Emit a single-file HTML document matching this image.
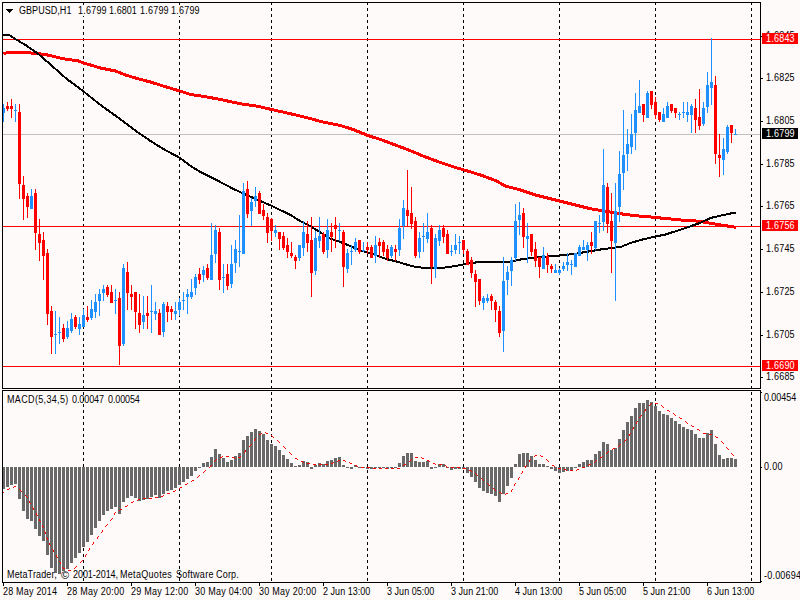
<!DOCTYPE html>
<html><head><meta charset="utf-8"><title>GBPUSD,H1</title>
<style>
html,body{margin:0;padding:0;background:#FFFAFA;}
body{width:800px;height:600px;position:relative;overflow:hidden;font-family:"Liberation Sans",sans-serif;}
.t{position:absolute;font-size:10px;line-height:12px;white-space:nowrap;transform-origin:0 0;transform:scaleX(.9);}
</style></head><body>
<div class="t" style="left:765.7px;top:30px;letter-spacing:0.244px">1.6845</div>
<svg width="800" height="600" viewBox="0 0 800 600" shape-rendering="crispEdges" style="position:absolute;left:0;top:0">
<line x1="83.5" y1="2" x2="83.5" y2="388" stroke="#000" stroke-width="1" stroke-dasharray="3 3"/>
<line x1="83.5" y1="392" x2="83.5" y2="582" stroke="#000" stroke-width="1" stroke-dasharray="3 3"/>
<line x1="179.5" y1="2" x2="179.5" y2="388" stroke="#000" stroke-width="1" stroke-dasharray="3 3"/>
<line x1="179.5" y1="392" x2="179.5" y2="582" stroke="#000" stroke-width="1" stroke-dasharray="3 3"/>
<line x1="271.5" y1="2" x2="271.5" y2="388" stroke="#000" stroke-width="1" stroke-dasharray="3 3"/>
<line x1="271.5" y1="392" x2="271.5" y2="582" stroke="#000" stroke-width="1" stroke-dasharray="3 3"/>
<line x1="367.5" y1="2" x2="367.5" y2="388" stroke="#000" stroke-width="1" stroke-dasharray="3 3"/>
<line x1="367.5" y1="392" x2="367.5" y2="582" stroke="#000" stroke-width="1" stroke-dasharray="3 3"/>
<line x1="463.5" y1="2" x2="463.5" y2="388" stroke="#000" stroke-width="1" stroke-dasharray="3 3"/>
<line x1="463.5" y1="392" x2="463.5" y2="582" stroke="#000" stroke-width="1" stroke-dasharray="3 3"/>
<line x1="559.5" y1="2" x2="559.5" y2="388" stroke="#000" stroke-width="1" stroke-dasharray="3 3"/>
<line x1="559.5" y1="392" x2="559.5" y2="582" stroke="#000" stroke-width="1" stroke-dasharray="3 3"/>
<line x1="655.5" y1="2" x2="655.5" y2="388" stroke="#000" stroke-width="1" stroke-dasharray="3 3"/>
<line x1="655.5" y1="392" x2="655.5" y2="582" stroke="#000" stroke-width="1" stroke-dasharray="3 3"/>
<line x1="751.5" y1="2" x2="751.5" y2="388" stroke="#000" stroke-width="1" stroke-dasharray="3 3"/>
<line x1="751.5" y1="392" x2="751.5" y2="582" stroke="#000" stroke-width="1" stroke-dasharray="3 3"/>
<rect x="83" y="5" width="1" height="11" fill="#FFFAFA"/>
<rect x="179" y="5" width="1" height="11" fill="#FFFAFA"/>
<rect x="3" y="39" width="757" height="1" fill="#FF0000"/>
<rect x="3" y="226" width="757" height="1" fill="#FF0000"/>
<rect x="3" y="366" width="757" height="1" fill="#FF0000"/>
<rect x="3" y="134" width="757" height="1" fill="#C0C0C0"/>
<polyline points="3.50,53.75 8.00,52.50 25.50,52.50 45.50,54.50 63.00,58.75 78.00,60.80 84.25,63.20 100.50,68.00 115.50,71.00 125.50,75.00 138.00,78.75 150.50,82.00 163.00,86.00 180.00,91.00 190.50,94.50 203.00,96.25 220.50,99.50 240.50,103.75 258.00,106.25 271.50,109.50 290.50,113.75 308.00,118.00 323.00,122.00 340.50,125.50 353.00,129.50 368.00,135.50 380.50,139.50 395.50,145.00 410.50,150.75 425.50,157.00 440.50,162.50 455.50,167.50 464.25,170.00 480.50,175.00 495.50,180.50 505.50,186.00 520.50,190.00 535.50,195.00 550.50,198.75 565.50,202.50 580.50,206.25 590.50,208.75 605.50,211.25 620.50,213.75 635.50,215.75 650.50,217.00 665.50,218.50 680.50,220.00 693.00,220.60 703.00,221.90 713.00,223.75 723.00,225.25 730.50,226.50 736.10,227.25" fill="none" stroke="#FF0000" stroke-width="3" stroke-linejoin="round"/>
<polyline points="2.50,34.60 8.50,34.60 16.10,39.50 25.50,45.00 38.00,53.75 50.50,64.50 66.50,78.75 84.25,92.00 100.50,105.00 118.00,117.50 138.00,132.50 150.50,141.00 163.00,148.75 180.00,158.00 190.50,166.00 200.50,172.00 215.50,179.50 233.00,188.75 245.50,194.50 260.50,201.00 271.50,205.75 290.50,215.00 300.50,221.25 310.50,226.25 320.50,232.50 330.50,238.75 340.50,242.00 350.50,246.25 363.00,251.25 375.50,255.00 385.50,258.75 395.50,261.25 405.50,264.25 415.50,267.00 425.50,268.00 435.50,268.25 445.50,267.50 455.50,266.00 465.50,264.00 475.50,262.50 488.00,261.75 500.50,261.75 510.50,261.50 520.50,259.50 535.50,257.50 550.50,256.25 565.50,255.00 575.50,253.75 585.50,252.00 600.50,249.50 620.50,247.00 630.50,243.00 640.50,240.00 655.50,236.50 665.50,234.50 675.50,231.25 690.50,226.25 700.50,222.75 710.50,218.00 720.50,215.60 730.50,213.50 736.10,212.75" fill="none" stroke="#000" stroke-width="2" stroke-linejoin="round"/>
<rect x="3" y="104" width="1" height="18" fill="#1E90FF"/>
<rect x="2" y="108" width="3" height="5" fill="#1E90FF"/>
<rect x="7" y="102" width="1" height="9" fill="#FF0000"/>
<rect x="6" y="106" width="3" height="3" fill="#FF0000"/>
<rect x="11" y="99" width="1" height="19" fill="#FF0000"/>
<rect x="10" y="106" width="3" height="3" fill="#FF0000"/>
<rect x="15" y="104" width="1" height="18" fill="#1E90FF"/>
<rect x="14" y="110" width="3" height="1" fill="#1E90FF"/>
<rect x="19" y="104" width="1" height="95" fill="#FF0000"/>
<rect x="18" y="112" width="3" height="72" fill="#FF0000"/>
<rect x="23" y="176" width="1" height="44" fill="#FF0000"/>
<rect x="22" y="185" width="3" height="14" fill="#FF0000"/>
<rect x="27" y="193" width="1" height="25" fill="#FF0000"/>
<rect x="26" y="196" width="3" height="11" fill="#FF0000"/>
<rect x="31" y="189" width="1" height="20" fill="#1E90FF"/>
<rect x="30" y="196" width="3" height="13" fill="#1E90FF"/>
<rect x="35" y="189" width="1" height="61" fill="#FF0000"/>
<rect x="34" y="193" width="3" height="40" fill="#FF0000"/>
<rect x="39" y="219" width="1" height="42" fill="#FF0000"/>
<rect x="38" y="234" width="3" height="9" fill="#FF0000"/>
<rect x="43" y="232" width="1" height="48" fill="#FF0000"/>
<rect x="42" y="240" width="3" height="16" fill="#FF0000"/>
<rect x="47" y="249" width="1" height="76" fill="#FF0000"/>
<rect x="46" y="253" width="3" height="61" fill="#FF0000"/>
<rect x="51" y="306" width="1" height="48" fill="#FF0000"/>
<rect x="50" y="311" width="3" height="26" fill="#FF0000"/>
<rect x="55" y="311" width="1" height="43" fill="#1E90FF"/>
<rect x="54" y="334" width="3" height="1" fill="#1E90FF"/>
<rect x="59" y="317" width="1" height="27" fill="#1E90FF"/>
<rect x="58" y="332" width="3" height="1" fill="#1E90FF"/>
<rect x="63" y="324" width="1" height="18" fill="#FF0000"/>
<rect x="62" y="328" width="3" height="11" fill="#FF0000"/>
<rect x="67" y="321" width="1" height="18" fill="#1E90FF"/>
<rect x="66" y="328" width="3" height="9" fill="#1E90FF"/>
<rect x="71" y="313" width="1" height="20" fill="#1E90FF"/>
<rect x="70" y="319" width="3" height="12" fill="#1E90FF"/>
<rect x="75" y="315" width="1" height="14" fill="#FF0000"/>
<rect x="74" y="317" width="3" height="10" fill="#FF0000"/>
<rect x="79" y="317" width="1" height="18" fill="#1E90FF"/>
<rect x="78" y="324" width="3" height="5" fill="#1E90FF"/>
<rect x="83" y="309" width="1" height="18" fill="#1E90FF"/>
<rect x="82" y="315" width="3" height="12" fill="#1E90FF"/>
<rect x="87" y="306" width="1" height="16" fill="#FF0000"/>
<rect x="86" y="317" width="3" height="3" fill="#FF0000"/>
<rect x="91" y="300" width="1" height="20" fill="#1E90FF"/>
<rect x="90" y="309" width="3" height="9" fill="#1E90FF"/>
<rect x="95" y="294" width="1" height="24" fill="#1E90FF"/>
<rect x="94" y="302" width="3" height="10" fill="#1E90FF"/>
<rect x="99" y="289" width="1" height="27" fill="#1E90FF"/>
<rect x="98" y="294" width="3" height="7" fill="#1E90FF"/>
<rect x="103" y="285" width="1" height="16" fill="#1E90FF"/>
<rect x="102" y="289" width="3" height="4" fill="#1E90FF"/>
<rect x="107" y="285" width="1" height="12" fill="#FF0000"/>
<rect x="106" y="287" width="3" height="8" fill="#FF0000"/>
<rect x="111" y="285" width="1" height="18" fill="#FF0000"/>
<rect x="110" y="292" width="3" height="11" fill="#FF0000"/>
<rect x="115" y="289" width="1" height="25" fill="#1E90FF"/>
<rect x="114" y="300" width="3" height="1" fill="#1E90FF"/>
<rect x="119" y="292" width="1" height="73" fill="#FF0000"/>
<rect x="118" y="298" width="3" height="48" fill="#FF0000"/>
<rect x="123" y="264" width="1" height="82" fill="#1E90FF"/>
<rect x="122" y="268" width="3" height="76" fill="#1E90FF"/>
<rect x="127" y="262" width="1" height="48" fill="#FF0000"/>
<rect x="126" y="272" width="3" height="21" fill="#FF0000"/>
<rect x="131" y="285" width="1" height="25" fill="#FF0000"/>
<rect x="130" y="294" width="3" height="3" fill="#FF0000"/>
<rect x="135" y="292" width="1" height="37" fill="#FF0000"/>
<rect x="134" y="292" width="3" height="20" fill="#FF0000"/>
<rect x="139" y="294" width="1" height="39" fill="#FF0000"/>
<rect x="138" y="313" width="3" height="12" fill="#FF0000"/>
<rect x="143" y="296" width="1" height="33" fill="#1E90FF"/>
<rect x="142" y="315" width="3" height="7" fill="#1E90FF"/>
<rect x="147" y="296" width="1" height="33" fill="#FF0000"/>
<rect x="146" y="313" width="3" height="3" fill="#FF0000"/>
<rect x="151" y="285" width="1" height="48" fill="#1E90FF"/>
<rect x="150" y="311" width="3" height="1" fill="#1E90FF"/>
<rect x="155" y="302" width="1" height="18" fill="#1E90FF"/>
<rect x="154" y="311" width="3" height="3" fill="#1E90FF"/>
<rect x="159" y="309" width="1" height="26" fill="#FF0000"/>
<rect x="158" y="313" width="3" height="22" fill="#FF0000"/>
<rect x="163" y="302" width="1" height="35" fill="#1E90FF"/>
<rect x="162" y="304" width="3" height="28" fill="#1E90FF"/>
<rect x="167" y="302" width="1" height="20" fill="#FF0000"/>
<rect x="166" y="306" width="3" height="6" fill="#FF0000"/>
<rect x="171" y="306" width="1" height="14" fill="#FF0000"/>
<rect x="170" y="309" width="3" height="3" fill="#FF0000"/>
<rect x="175" y="302" width="1" height="18" fill="#1E90FF"/>
<rect x="174" y="311" width="3" height="3" fill="#1E90FF"/>
<rect x="179" y="298" width="1" height="18" fill="#1E90FF"/>
<rect x="178" y="302" width="3" height="8" fill="#1E90FF"/>
<rect x="183" y="292" width="1" height="18" fill="#1E90FF"/>
<rect x="182" y="300" width="3" height="1" fill="#1E90FF"/>
<rect x="187" y="289" width="1" height="25" fill="#1E90FF"/>
<rect x="186" y="294" width="3" height="3" fill="#1E90FF"/>
<rect x="191" y="279" width="1" height="20" fill="#1E90FF"/>
<rect x="190" y="292" width="3" height="5" fill="#1E90FF"/>
<rect x="195" y="274" width="1" height="21" fill="#1E90FF"/>
<rect x="194" y="277" width="3" height="11" fill="#1E90FF"/>
<rect x="199" y="268" width="1" height="16" fill="#FF0000"/>
<rect x="198" y="274" width="3" height="6" fill="#FF0000"/>
<rect x="203" y="266" width="1" height="16" fill="#1E90FF"/>
<rect x="202" y="270" width="3" height="5" fill="#1E90FF"/>
<rect x="207" y="264" width="1" height="16" fill="#FF0000"/>
<rect x="206" y="268" width="3" height="10" fill="#FF0000"/>
<rect x="211" y="223" width="1" height="57" fill="#1E90FF"/>
<rect x="210" y="255" width="3" height="25" fill="#1E90FF"/>
<rect x="215" y="225" width="1" height="38" fill="#1E90FF"/>
<rect x="214" y="230" width="3" height="24" fill="#1E90FF"/>
<rect x="219" y="228" width="1" height="62" fill="#FF0000"/>
<rect x="218" y="232" width="3" height="48" fill="#FF0000"/>
<rect x="223" y="264" width="1" height="29" fill="#1E90FF"/>
<rect x="222" y="277" width="3" height="1" fill="#1E90FF"/>
<rect x="227" y="264" width="1" height="26" fill="#FF0000"/>
<rect x="226" y="274" width="3" height="12" fill="#FF0000"/>
<rect x="231" y="245" width="1" height="43" fill="#1E90FF"/>
<rect x="230" y="264" width="3" height="20" fill="#1E90FF"/>
<rect x="235" y="240" width="1" height="33" fill="#1E90FF"/>
<rect x="234" y="249" width="3" height="14" fill="#1E90FF"/>
<rect x="239" y="215" width="1" height="52" fill="#1E90FF"/>
<rect x="238" y="251" width="3" height="1" fill="#1E90FF"/>
<rect x="243" y="183" width="1" height="71" fill="#1E90FF"/>
<rect x="242" y="191" width="3" height="63" fill="#1E90FF"/>
<rect x="247" y="181" width="1" height="37" fill="#FF0000"/>
<rect x="246" y="189" width="3" height="25" fill="#FF0000"/>
<rect x="251" y="198" width="1" height="28" fill="#1E90FF"/>
<rect x="250" y="202" width="3" height="9" fill="#1E90FF"/>
<rect x="255" y="187" width="1" height="20" fill="#1E90FF"/>
<rect x="254" y="196" width="3" height="5" fill="#1E90FF"/>
<rect x="259" y="191" width="1" height="23" fill="#FF0000"/>
<rect x="258" y="193" width="3" height="21" fill="#FF0000"/>
<rect x="263" y="204" width="1" height="16" fill="#FF0000"/>
<rect x="262" y="210" width="3" height="6" fill="#FF0000"/>
<rect x="267" y="213" width="1" height="30" fill="#FF0000"/>
<rect x="266" y="217" width="3" height="16" fill="#FF0000"/>
<rect x="271" y="218" width="1" height="23" fill="#FF0000"/>
<rect x="270" y="219" width="3" height="12" fill="#FF0000"/>
<rect x="275" y="225" width="1" height="12" fill="#1E90FF"/>
<rect x="274" y="230" width="3" height="3" fill="#1E90FF"/>
<rect x="279" y="232" width="1" height="18" fill="#FF0000"/>
<rect x="278" y="232" width="3" height="7" fill="#FF0000"/>
<rect x="283" y="232" width="1" height="18" fill="#FF0000"/>
<rect x="282" y="236" width="3" height="12" fill="#FF0000"/>
<rect x="287" y="238" width="1" height="20" fill="#FF0000"/>
<rect x="286" y="245" width="3" height="7" fill="#FF0000"/>
<rect x="291" y="242" width="1" height="16" fill="#FF0000"/>
<rect x="290" y="253" width="3" height="3" fill="#FF0000"/>
<rect x="295" y="255" width="1" height="14" fill="#FF0000"/>
<rect x="294" y="257" width="3" height="4" fill="#FF0000"/>
<rect x="299" y="245" width="1" height="16" fill="#1E90FF"/>
<rect x="298" y="245" width="3" height="13" fill="#1E90FF"/>
<rect x="303" y="221" width="1" height="35" fill="#1E90FF"/>
<rect x="302" y="232" width="3" height="16" fill="#1E90FF"/>
<rect x="307" y="221" width="1" height="31" fill="#FF0000"/>
<rect x="306" y="234" width="3" height="9" fill="#FF0000"/>
<rect x="311" y="217" width="1" height="80" fill="#FF0000"/>
<rect x="310" y="240" width="3" height="33" fill="#FF0000"/>
<rect x="315" y="231" width="1" height="44" fill="#1E90FF"/>
<rect x="314" y="238" width="3" height="33" fill="#1E90FF"/>
<rect x="319" y="217" width="1" height="31" fill="#1E90FF"/>
<rect x="318" y="236" width="3" height="5" fill="#1E90FF"/>
<rect x="323" y="232" width="1" height="22" fill="#FF0000"/>
<rect x="322" y="234" width="3" height="18" fill="#FF0000"/>
<rect x="327" y="219" width="1" height="39" fill="#1E90FF"/>
<rect x="326" y="230" width="3" height="20" fill="#1E90FF"/>
<rect x="331" y="223" width="1" height="29" fill="#FF0000"/>
<rect x="330" y="232" width="3" height="5" fill="#FF0000"/>
<rect x="335" y="217" width="1" height="31" fill="#FF0000"/>
<rect x="334" y="225" width="3" height="4" fill="#FF0000"/>
<rect x="339" y="223" width="1" height="18" fill="#1E90FF"/>
<rect x="338" y="230" width="3" height="1" fill="#1E90FF"/>
<rect x="343" y="230" width="1" height="57" fill="#FF0000"/>
<rect x="342" y="232" width="3" height="35" fill="#FF0000"/>
<rect x="347" y="249" width="1" height="24" fill="#1E90FF"/>
<rect x="346" y="253" width="3" height="16" fill="#1E90FF"/>
<rect x="351" y="245" width="1" height="20" fill="#1E90FF"/>
<rect x="350" y="251" width="3" height="1" fill="#1E90FF"/>
<rect x="355" y="238" width="1" height="14" fill="#1E90FF"/>
<rect x="354" y="242" width="3" height="8" fill="#1E90FF"/>
<rect x="359" y="240" width="1" height="14" fill="#FF0000"/>
<rect x="358" y="240" width="3" height="12" fill="#FF0000"/>
<rect x="363" y="242" width="1" height="10" fill="#1E90FF"/>
<rect x="362" y="250" width="3" height="1" fill="#1E90FF"/>
<rect x="367" y="242" width="1" height="12" fill="#FF0000"/>
<rect x="366" y="247" width="3" height="3" fill="#FF0000"/>
<rect x="371" y="245" width="1" height="13" fill="#FF0000"/>
<rect x="370" y="247" width="3" height="11" fill="#FF0000"/>
<rect x="375" y="236" width="1" height="27" fill="#1E90FF"/>
<rect x="374" y="245" width="3" height="11" fill="#1E90FF"/>
<rect x="379" y="238" width="1" height="20" fill="#FF0000"/>
<rect x="378" y="242" width="3" height="4" fill="#FF0000"/>
<rect x="383" y="240" width="1" height="16" fill="#FF0000"/>
<rect x="382" y="242" width="3" height="10" fill="#FF0000"/>
<rect x="387" y="245" width="1" height="16" fill="#FF0000"/>
<rect x="386" y="249" width="3" height="9" fill="#FF0000"/>
<rect x="391" y="245" width="1" height="13" fill="#1E90FF"/>
<rect x="390" y="247" width="3" height="9" fill="#1E90FF"/>
<rect x="395" y="245" width="1" height="16" fill="#FF0000"/>
<rect x="394" y="249" width="3" height="3" fill="#FF0000"/>
<rect x="399" y="219" width="1" height="37" fill="#1E90FF"/>
<rect x="398" y="228" width="3" height="22" fill="#1E90FF"/>
<rect x="403" y="200" width="1" height="39" fill="#1E90FF"/>
<rect x="402" y="208" width="3" height="18" fill="#1E90FF"/>
<rect x="407" y="170" width="1" height="57" fill="#FF0000"/>
<rect x="406" y="210" width="3" height="6" fill="#FF0000"/>
<rect x="411" y="187" width="1" height="42" fill="#FF0000"/>
<rect x="410" y="213" width="3" height="11" fill="#FF0000"/>
<rect x="415" y="217" width="1" height="41" fill="#FF0000"/>
<rect x="414" y="221" width="3" height="35" fill="#FF0000"/>
<rect x="419" y="232" width="1" height="26" fill="#1E90FF"/>
<rect x="418" y="238" width="3" height="14" fill="#1E90FF"/>
<rect x="423" y="223" width="1" height="29" fill="#1E90FF"/>
<rect x="422" y="236" width="3" height="1" fill="#1E90FF"/>
<rect x="427" y="213" width="1" height="30" fill="#1E90FF"/>
<rect x="426" y="232" width="3" height="7" fill="#1E90FF"/>
<rect x="431" y="225" width="1" height="59" fill="#FF0000"/>
<rect x="430" y="228" width="3" height="39" fill="#FF0000"/>
<rect x="435" y="234" width="1" height="44" fill="#1E90FF"/>
<rect x="434" y="238" width="3" height="31" fill="#1E90FF"/>
<rect x="439" y="225" width="1" height="21" fill="#1E90FF"/>
<rect x="438" y="230" width="3" height="11" fill="#1E90FF"/>
<rect x="443" y="225" width="1" height="18" fill="#FF0000"/>
<rect x="442" y="228" width="3" height="9" fill="#FF0000"/>
<rect x="447" y="230" width="1" height="24" fill="#FF0000"/>
<rect x="446" y="234" width="3" height="20" fill="#FF0000"/>
<rect x="451" y="245" width="1" height="11" fill="#1E90FF"/>
<rect x="450" y="251" width="3" height="1" fill="#1E90FF"/>
<rect x="455" y="234" width="1" height="20" fill="#1E90FF"/>
<rect x="454" y="245" width="3" height="5" fill="#1E90FF"/>
<rect x="459" y="236" width="1" height="18" fill="#1E90FF"/>
<rect x="458" y="242" width="3" height="1" fill="#1E90FF"/>
<rect x="463" y="240" width="1" height="14" fill="#FF0000"/>
<rect x="462" y="240" width="3" height="10" fill="#FF0000"/>
<rect x="467" y="249" width="1" height="16" fill="#FF0000"/>
<rect x="466" y="251" width="3" height="14" fill="#FF0000"/>
<rect x="471" y="257" width="1" height="21" fill="#FF0000"/>
<rect x="470" y="260" width="3" height="13" fill="#FF0000"/>
<rect x="475" y="270" width="1" height="37" fill="#FF0000"/>
<rect x="474" y="274" width="3" height="8" fill="#FF0000"/>
<rect x="479" y="279" width="1" height="26" fill="#FF0000"/>
<rect x="478" y="279" width="3" height="22" fill="#FF0000"/>
<rect x="483" y="296" width="1" height="14" fill="#1E90FF"/>
<rect x="482" y="298" width="3" height="5" fill="#1E90FF"/>
<rect x="487" y="294" width="1" height="9" fill="#1E90FF"/>
<rect x="486" y="298" width="3" height="3" fill="#1E90FF"/>
<rect x="491" y="294" width="1" height="16" fill="#FF0000"/>
<rect x="490" y="296" width="3" height="5" fill="#FF0000"/>
<rect x="495" y="300" width="1" height="22" fill="#FF0000"/>
<rect x="494" y="302" width="3" height="8" fill="#FF0000"/>
<rect x="499" y="306" width="1" height="31" fill="#FF0000"/>
<rect x="498" y="311" width="3" height="22" fill="#FF0000"/>
<rect x="503" y="257" width="1" height="95" fill="#1E90FF"/>
<rect x="502" y="281" width="3" height="50" fill="#1E90FF"/>
<rect x="507" y="266" width="1" height="29" fill="#1E90FF"/>
<rect x="506" y="272" width="3" height="8" fill="#1E90FF"/>
<rect x="511" y="257" width="1" height="29" fill="#1E90FF"/>
<rect x="510" y="260" width="3" height="11" fill="#1E90FF"/>
<rect x="515" y="204" width="1" height="57" fill="#1E90FF"/>
<rect x="514" y="221" width="3" height="37" fill="#1E90FF"/>
<rect x="519" y="202" width="1" height="33" fill="#1E90FF"/>
<rect x="518" y="215" width="3" height="5" fill="#1E90FF"/>
<rect x="523" y="208" width="1" height="40" fill="#FF0000"/>
<rect x="522" y="213" width="3" height="24" fill="#FF0000"/>
<rect x="527" y="223" width="1" height="40" fill="#1E90FF"/>
<rect x="526" y="236" width="3" height="3" fill="#1E90FF"/>
<rect x="531" y="234" width="1" height="22" fill="#FF0000"/>
<rect x="530" y="234" width="3" height="18" fill="#FF0000"/>
<rect x="535" y="242" width="1" height="25" fill="#FF0000"/>
<rect x="534" y="249" width="3" height="12" fill="#FF0000"/>
<rect x="539" y="257" width="1" height="21" fill="#FF0000"/>
<rect x="538" y="257" width="3" height="10" fill="#FF0000"/>
<rect x="543" y="247" width="1" height="22" fill="#1E90FF"/>
<rect x="542" y="255" width="3" height="14" fill="#1E90FF"/>
<rect x="547" y="253" width="1" height="20" fill="#FF0000"/>
<rect x="546" y="256" width="3" height="9" fill="#FF0000"/>
<rect x="551" y="264" width="1" height="9" fill="#FF0000"/>
<rect x="550" y="266" width="3" height="3" fill="#FF0000"/>
<rect x="555" y="264" width="1" height="9" fill="#1E90FF"/>
<rect x="554" y="270" width="3" height="3" fill="#1E90FF"/>
<rect x="559" y="268" width="1" height="7" fill="#1E90FF"/>
<rect x="558" y="270" width="3" height="3" fill="#1E90FF"/>
<rect x="563" y="262" width="1" height="9" fill="#1E90FF"/>
<rect x="562" y="266" width="3" height="3" fill="#1E90FF"/>
<rect x="567" y="253" width="1" height="18" fill="#1E90FF"/>
<rect x="566" y="262" width="3" height="3" fill="#1E90FF"/>
<rect x="571" y="260" width="1" height="15" fill="#1E90FF"/>
<rect x="570" y="264" width="3" height="1" fill="#1E90FF"/>
<rect x="575" y="253" width="1" height="14" fill="#1E90FF"/>
<rect x="574" y="253" width="3" height="14" fill="#1E90FF"/>
<rect x="579" y="245" width="1" height="11" fill="#1E90FF"/>
<rect x="578" y="247" width="3" height="9" fill="#1E90FF"/>
<rect x="583" y="240" width="1" height="10" fill="#1E90FF"/>
<rect x="582" y="247" width="3" height="3" fill="#1E90FF"/>
<rect x="587" y="242" width="1" height="19" fill="#1E90FF"/>
<rect x="586" y="245" width="3" height="5" fill="#1E90FF"/>
<rect x="591" y="232" width="1" height="22" fill="#FF0000"/>
<rect x="590" y="242" width="3" height="4" fill="#FF0000"/>
<rect x="595" y="221" width="1" height="29" fill="#1E90FF"/>
<rect x="594" y="221" width="3" height="27" fill="#1E90FF"/>
<rect x="599" y="215" width="1" height="18" fill="#1E90FF"/>
<rect x="598" y="223" width="3" height="1" fill="#1E90FF"/>
<rect x="603" y="149" width="1" height="82" fill="#1E90FF"/>
<rect x="602" y="185" width="3" height="37" fill="#1E90FF"/>
<rect x="607" y="183" width="1" height="50" fill="#FF0000"/>
<rect x="606" y="187" width="3" height="37" fill="#FF0000"/>
<rect x="611" y="193" width="1" height="80" fill="#FF0000"/>
<rect x="610" y="221" width="3" height="20" fill="#FF0000"/>
<rect x="615" y="183" width="1" height="118" fill="#1E90FF"/>
<rect x="614" y="211" width="3" height="32" fill="#1E90FF"/>
<rect x="619" y="151" width="1" height="71" fill="#1E90FF"/>
<rect x="618" y="174" width="3" height="33" fill="#1E90FF"/>
<rect x="623" y="110" width="1" height="80" fill="#1E90FF"/>
<rect x="622" y="155" width="3" height="18" fill="#1E90FF"/>
<rect x="627" y="129" width="1" height="42" fill="#1E90FF"/>
<rect x="626" y="144" width="3" height="10" fill="#1E90FF"/>
<rect x="631" y="114" width="1" height="40" fill="#1E90FF"/>
<rect x="630" y="134" width="3" height="13" fill="#1E90FF"/>
<rect x="635" y="93" width="1" height="57" fill="#1E90FF"/>
<rect x="634" y="110" width="3" height="23" fill="#1E90FF"/>
<rect x="639" y="80" width="1" height="33" fill="#1E90FF"/>
<rect x="638" y="106" width="3" height="7" fill="#1E90FF"/>
<rect x="643" y="104" width="1" height="18" fill="#FF0000"/>
<rect x="642" y="104" width="3" height="11" fill="#FF0000"/>
<rect x="647" y="91" width="1" height="27" fill="#1E90FF"/>
<rect x="646" y="93" width="3" height="25" fill="#1E90FF"/>
<rect x="651" y="91" width="1" height="18" fill="#FF0000"/>
<rect x="650" y="91" width="3" height="14" fill="#FF0000"/>
<rect x="655" y="97" width="1" height="22" fill="#FF0000"/>
<rect x="654" y="102" width="3" height="13" fill="#FF0000"/>
<rect x="659" y="112" width="1" height="10" fill="#FF0000"/>
<rect x="658" y="112" width="3" height="8" fill="#FF0000"/>
<rect x="663" y="108" width="1" height="14" fill="#1E90FF"/>
<rect x="662" y="114" width="3" height="8" fill="#1E90FF"/>
<rect x="667" y="102" width="1" height="16" fill="#1E90FF"/>
<rect x="666" y="106" width="3" height="12" fill="#1E90FF"/>
<rect x="671" y="104" width="1" height="9" fill="#FF0000"/>
<rect x="670" y="104" width="3" height="7" fill="#FF0000"/>
<rect x="675" y="108" width="1" height="10" fill="#FF0000"/>
<rect x="674" y="108" width="3" height="5" fill="#FF0000"/>
<rect x="679" y="112" width="1" height="8" fill="#1E90FF"/>
<rect x="678" y="114" width="3" height="1" fill="#1E90FF"/>
<rect x="683" y="102" width="1" height="16" fill="#1E90FF"/>
<rect x="682" y="112" width="3" height="1" fill="#1E90FF"/>
<rect x="687" y="102" width="1" height="20" fill="#1E90FF"/>
<rect x="686" y="112" width="3" height="3" fill="#1E90FF"/>
<rect x="691" y="104" width="1" height="29" fill="#1E90FF"/>
<rect x="690" y="106" width="3" height="9" fill="#1E90FF"/>
<rect x="695" y="99" width="1" height="34" fill="#FF0000"/>
<rect x="694" y="108" width="3" height="12" fill="#FF0000"/>
<rect x="699" y="89" width="1" height="41" fill="#FF0000"/>
<rect x="698" y="117" width="3" height="9" fill="#FF0000"/>
<rect x="703" y="102" width="1" height="24" fill="#1E90FF"/>
<rect x="702" y="108" width="3" height="16" fill="#1E90FF"/>
<rect x="707" y="72" width="1" height="41" fill="#1E90FF"/>
<rect x="706" y="85" width="3" height="22" fill="#1E90FF"/>
<rect x="711" y="38" width="1" height="67" fill="#1E90FF"/>
<rect x="710" y="82" width="3" height="6" fill="#1E90FF"/>
<rect x="715" y="76" width="1" height="88" fill="#FF0000"/>
<rect x="714" y="85" width="3" height="69" fill="#FF0000"/>
<rect x="719" y="134" width="1" height="43" fill="#FF0000"/>
<rect x="718" y="155" width="3" height="3" fill="#FF0000"/>
<rect x="723" y="138" width="1" height="37" fill="#1E90FF"/>
<rect x="722" y="149" width="3" height="11" fill="#1E90FF"/>
<rect x="727" y="125" width="1" height="29" fill="#1E90FF"/>
<rect x="726" y="127" width="3" height="25" fill="#1E90FF"/>
<rect x="731" y="125" width="1" height="18" fill="#FF0000"/>
<rect x="730" y="125" width="3" height="8" fill="#FF0000"/>
<rect x="735" y="129" width="1" height="6" fill="#1E90FF"/>
<rect x="734" y="134" width="3" height="1" fill="#1E90FF"/>
<rect x="2" y="467" width="3" height="22" fill="#696969"/>
<rect x="6" y="467" width="3" height="20" fill="#696969"/>
<rect x="10" y="467" width="3" height="18" fill="#696969"/>
<rect x="14" y="467" width="3" height="17" fill="#696969"/>
<rect x="18" y="467" width="3" height="32" fill="#696969"/>
<rect x="22" y="467" width="3" height="44" fill="#696969"/>
<rect x="26" y="467" width="3" height="52" fill="#696969"/>
<rect x="30" y="467" width="3" height="54" fill="#696969"/>
<rect x="34" y="467" width="3" height="62" fill="#696969"/>
<rect x="38" y="467" width="3" height="69" fill="#696969"/>
<rect x="42" y="467" width="3" height="74" fill="#696969"/>
<rect x="46" y="467" width="3" height="88" fill="#696969"/>
<rect x="50" y="467" width="3" height="101" fill="#696969"/>
<rect x="54" y="467" width="3" height="106" fill="#696969"/>
<rect x="58" y="467" width="3" height="107" fill="#696969"/>
<rect x="62" y="467" width="3" height="104" fill="#696969"/>
<rect x="66" y="467" width="3" height="102" fill="#696969"/>
<rect x="70" y="467" width="3" height="96" fill="#696969"/>
<rect x="74" y="467" width="3" height="91" fill="#696969"/>
<rect x="78" y="467" width="3" height="86" fill="#696969"/>
<rect x="82" y="467" width="3" height="80" fill="#696969"/>
<rect x="86" y="467" width="3" height="75" fill="#696969"/>
<rect x="90" y="467" width="3" height="68" fill="#696969"/>
<rect x="94" y="467" width="3" height="61" fill="#696969"/>
<rect x="98" y="467" width="3" height="54" fill="#696969"/>
<rect x="102" y="467" width="3" height="48" fill="#696969"/>
<rect x="106" y="467" width="3" height="44" fill="#696969"/>
<rect x="110" y="467" width="3" height="42" fill="#696969"/>
<rect x="114" y="467" width="3" height="40" fill="#696969"/>
<rect x="118" y="467" width="3" height="47" fill="#696969"/>
<rect x="122" y="467" width="3" height="35" fill="#696969"/>
<rect x="126" y="467" width="3" height="31" fill="#696969"/>
<rect x="130" y="467" width="3" height="29" fill="#696969"/>
<rect x="134" y="467" width="3" height="31" fill="#696969"/>
<rect x="138" y="467" width="3" height="34" fill="#696969"/>
<rect x="142" y="467" width="3" height="33" fill="#696969"/>
<rect x="146" y="467" width="3" height="32" fill="#696969"/>
<rect x="150" y="467" width="3" height="30" fill="#696969"/>
<rect x="154" y="467" width="3" height="28" fill="#696969"/>
<rect x="158" y="467" width="3" height="31" fill="#696969"/>
<rect x="162" y="467" width="3" height="27" fill="#696969"/>
<rect x="166" y="467" width="3" height="24" fill="#696969"/>
<rect x="170" y="467" width="3" height="23" fill="#696969"/>
<rect x="174" y="467" width="3" height="21" fill="#696969"/>
<rect x="178" y="467" width="3" height="18" fill="#696969"/>
<rect x="182" y="467" width="3" height="15" fill="#696969"/>
<rect x="186" y="467" width="3" height="12" fill="#696969"/>
<rect x="190" y="467" width="3" height="9" fill="#696969"/>
<rect x="194" y="467" width="3" height="4" fill="#696969"/>
<rect x="198" y="467" width="3" height="1" fill="#696969"/>
<rect x="202" y="463" width="3" height="4" fill="#696969"/>
<rect x="206" y="462" width="3" height="5" fill="#696969"/>
<rect x="210" y="457" width="3" height="10" fill="#696969"/>
<rect x="214" y="449" width="3" height="18" fill="#696969"/>
<rect x="218" y="454" width="3" height="13" fill="#696969"/>
<rect x="222" y="458" width="3" height="9" fill="#696969"/>
<rect x="226" y="462" width="3" height="5" fill="#696969"/>
<rect x="230" y="460" width="3" height="7" fill="#696969"/>
<rect x="234" y="456" width="3" height="11" fill="#696969"/>
<rect x="238" y="453" width="3" height="14" fill="#696969"/>
<rect x="242" y="440" width="3" height="27" fill="#696969"/>
<rect x="246" y="436" width="3" height="31" fill="#696969"/>
<rect x="250" y="432" width="3" height="35" fill="#696969"/>
<rect x="254" y="429" width="3" height="38" fill="#696969"/>
<rect x="258" y="431" width="3" height="36" fill="#696969"/>
<rect x="262" y="434" width="3" height="33" fill="#696969"/>
<rect x="266" y="440" width="3" height="27" fill="#696969"/>
<rect x="270" y="444" width="3" height="23" fill="#696969"/>
<rect x="274" y="446" width="3" height="21" fill="#696969"/>
<rect x="278" y="450" width="3" height="17" fill="#696969"/>
<rect x="282" y="455" width="3" height="12" fill="#696969"/>
<rect x="286" y="459" width="3" height="8" fill="#696969"/>
<rect x="290" y="463" width="3" height="4" fill="#696969"/>
<rect x="294" y="466" width="3" height="1" fill="#696969"/>
<rect x="298" y="465" width="3" height="2" fill="#696969"/>
<rect x="302" y="461" width="3" height="6" fill="#696969"/>
<rect x="306" y="462" width="3" height="5" fill="#696969"/>
<rect x="310" y="467" width="3" height="2" fill="#696969"/>
<rect x="314" y="465" width="3" height="2" fill="#696969"/>
<rect x="318" y="463" width="3" height="4" fill="#696969"/>
<rect x="322" y="464" width="3" height="3" fill="#696969"/>
<rect x="326" y="461" width="3" height="6" fill="#696969"/>
<rect x="330" y="460" width="3" height="7" fill="#696969"/>
<rect x="334" y="458" width="3" height="9" fill="#696969"/>
<rect x="338" y="457" width="3" height="10" fill="#696969"/>
<rect x="342" y="465" width="3" height="2" fill="#696969"/>
<rect x="346" y="467" width="3" height="1" fill="#696969"/>
<rect x="350" y="467" width="3" height="2" fill="#696969"/>
<rect x="354" y="465" width="3" height="2" fill="#696969"/>
<rect x="358" y="467" width="3" height="1" fill="#696969"/>
<rect x="362" y="467" width="3" height="1" fill="#696969"/>
<rect x="366" y="467" width="3" height="2" fill="#696969"/>
<rect x="370" y="467" width="3" height="2" fill="#696969"/>
<rect x="374" y="467" width="3" height="1" fill="#696969"/>
<rect x="378" y="467" width="3" height="1" fill="#696969"/>
<rect x="382" y="467" width="3" height="1" fill="#696969"/>
<rect x="386" y="467" width="3" height="2" fill="#696969"/>
<rect x="390" y="467" width="3" height="1" fill="#696969"/>
<rect x="394" y="467" width="3" height="1" fill="#696969"/>
<rect x="398" y="463" width="3" height="4" fill="#696969"/>
<rect x="402" y="456" width="3" height="11" fill="#696969"/>
<rect x="406" y="453" width="3" height="14" fill="#696969"/>
<rect x="410" y="453" width="3" height="14" fill="#696969"/>
<rect x="414" y="461" width="3" height="6" fill="#696969"/>
<rect x="418" y="462" width="3" height="5" fill="#696969"/>
<rect x="422" y="462" width="3" height="5" fill="#696969"/>
<rect x="426" y="461" width="3" height="6" fill="#696969"/>
<rect x="430" y="467" width="3" height="2" fill="#696969"/>
<rect x="434" y="467" width="3" height="1" fill="#696969"/>
<rect x="438" y="464" width="3" height="3" fill="#696969"/>
<rect x="442" y="464" width="3" height="3" fill="#696969"/>
<rect x="446" y="467" width="3" height="1" fill="#696969"/>
<rect x="450" y="467" width="3" height="3" fill="#696969"/>
<rect x="454" y="467" width="3" height="2" fill="#696969"/>
<rect x="458" y="467" width="3" height="2" fill="#696969"/>
<rect x="462" y="467" width="3" height="2" fill="#696969"/>
<rect x="466" y="467" width="3" height="6" fill="#696969"/>
<rect x="470" y="467" width="3" height="10" fill="#696969"/>
<rect x="474" y="467" width="3" height="15" fill="#696969"/>
<rect x="478" y="467" width="3" height="21" fill="#696969"/>
<rect x="482" y="467" width="3" height="24" fill="#696969"/>
<rect x="486" y="467" width="3" height="26" fill="#696969"/>
<rect x="490" y="467" width="3" height="27" fill="#696969"/>
<rect x="494" y="467" width="3" height="29" fill="#696969"/>
<rect x="498" y="467" width="3" height="35" fill="#696969"/>
<rect x="502" y="467" width="3" height="27" fill="#696969"/>
<rect x="506" y="467" width="3" height="19" fill="#696969"/>
<rect x="510" y="467" width="3" height="11" fill="#696969"/>
<rect x="514" y="464" width="3" height="3" fill="#696969"/>
<rect x="518" y="454" width="3" height="13" fill="#696969"/>
<rect x="522" y="453" width="3" height="14" fill="#696969"/>
<rect x="526" y="453" width="3" height="14" fill="#696969"/>
<rect x="530" y="456" width="3" height="11" fill="#696969"/>
<rect x="534" y="460" width="3" height="7" fill="#696969"/>
<rect x="538" y="464" width="3" height="3" fill="#696969"/>
<rect x="542" y="464" width="3" height="3" fill="#696969"/>
<rect x="546" y="466" width="3" height="1" fill="#696969"/>
<rect x="550" y="467" width="3" height="2" fill="#696969"/>
<rect x="554" y="467" width="3" height="4" fill="#696969"/>
<rect x="558" y="467" width="3" height="6" fill="#696969"/>
<rect x="562" y="467" width="3" height="5" fill="#696969"/>
<rect x="566" y="467" width="3" height="4" fill="#696969"/>
<rect x="570" y="467" width="3" height="3" fill="#696969"/>
<rect x="574" y="467" width="3" height="1" fill="#696969"/>
<rect x="578" y="464" width="3" height="3" fill="#696969"/>
<rect x="582" y="462" width="3" height="5" fill="#696969"/>
<rect x="586" y="460" width="3" height="7" fill="#696969"/>
<rect x="590" y="460" width="3" height="7" fill="#696969"/>
<rect x="594" y="454" width="3" height="13" fill="#696969"/>
<rect x="598" y="451" width="3" height="16" fill="#696969"/>
<rect x="602" y="442" width="3" height="25" fill="#696969"/>
<rect x="606" y="444" width="3" height="23" fill="#696969"/>
<rect x="610" y="450" width="3" height="17" fill="#696969"/>
<rect x="614" y="448" width="3" height="19" fill="#696969"/>
<rect x="618" y="439" width="3" height="28" fill="#696969"/>
<rect x="622" y="430" width="3" height="37" fill="#696969"/>
<rect x="626" y="422" width="3" height="45" fill="#696969"/>
<rect x="630" y="416" width="3" height="51" fill="#696969"/>
<rect x="634" y="408" width="3" height="59" fill="#696969"/>
<rect x="638" y="403" width="3" height="64" fill="#696969"/>
<rect x="642" y="403" width="3" height="64" fill="#696969"/>
<rect x="646" y="400" width="3" height="67" fill="#696969"/>
<rect x="650" y="402" width="3" height="65" fill="#696969"/>
<rect x="654" y="406" width="3" height="61" fill="#696969"/>
<rect x="658" y="411" width="3" height="56" fill="#696969"/>
<rect x="662" y="414" width="3" height="53" fill="#696969"/>
<rect x="666" y="415" width="3" height="52" fill="#696969"/>
<rect x="670" y="418" width="3" height="49" fill="#696969"/>
<rect x="674" y="421" width="3" height="46" fill="#696969"/>
<rect x="678" y="424" width="3" height="43" fill="#696969"/>
<rect x="682" y="427" width="3" height="40" fill="#696969"/>
<rect x="686" y="429" width="3" height="38" fill="#696969"/>
<rect x="690" y="430" width="3" height="37" fill="#696969"/>
<rect x="694" y="434" width="3" height="33" fill="#696969"/>
<rect x="698" y="438" width="3" height="29" fill="#696969"/>
<rect x="702" y="438" width="3" height="29" fill="#696969"/>
<rect x="706" y="433" width="3" height="34" fill="#696969"/>
<rect x="710" y="430" width="3" height="37" fill="#696969"/>
<rect x="714" y="444" width="3" height="23" fill="#696969"/>
<rect x="718" y="455" width="3" height="12" fill="#696969"/>
<rect x="722" y="459" width="3" height="8" fill="#696969"/>
<rect x="726" y="458" width="3" height="9" fill="#696969"/>
<rect x="730" y="458" width="3" height="9" fill="#696969"/>
<rect x="734" y="459" width="3" height="8" fill="#696969"/>
<path d="M651 403h1v1h-1zM655 403h3v1h-3zM650 404h1v1h-1zM649 405h1v1h-1zM661 405h1v1h-1zM662 406h1v1h-1zM663 407h1v1h-1zM645 409h1v1h-1zM645 410h1v1h-1zM667 410h2v1h-2zM644 411h1v1h-1zM669 411h1v1h-1zM673 413h1v1h-1zM674 414h1v1h-1zM641 415h1v1h-1zM675 415h1v1h-1zM640 416h1v1h-1zM639 417h1v1h-1zM679 417h1v1h-1zM680 418h2v1h-2zM637 421h1v1h-1zM685 421h1v1h-1zM636 422h1v1h-1zM686 422h1v1h-1zM636 423h1v1h-1zM687 423h1v1h-1zM691 425h1v1h-1zM692 426h2v1h-2zM633 427h1v1h-1zM633 428h1v1h-1zM632 429h1v1h-1zM697 429h2v1h-2zM699 430h1v1h-1zM265 432h1v1h-1zM261 433h1v1h-1zM266 433h2v1h-2zM630 433h1v1h-1zM703 433h3v1h-3zM259 434h2v1h-2zM629 434h1v1h-1zM709 434h3v1h-3zM271 435h1v1h-1zM629 435h1v1h-1zM272 436h1v1h-1zM715 436h1v1h-1zM273 437h1v1h-1zM716 437h2v1h-2zM255 438h1v1h-1zM254 439h1v1h-1zM626 439h1v1h-1zM254 440h1v1h-1zM277 440h1v1h-1zM625 440h1v1h-1zM278 441h1v1h-1zM624 441h1v1h-1zM721 441h1v1h-1zM279 442h1v1h-1zM722 442h1v1h-1zM723 443h1v1h-1zM251 444h1v1h-1zM620 444h1v1h-1zM250 445h1v1h-1zM619 445h1v1h-1zM249 446h1v1h-1zM283 446h1v1h-1zM618 446h1v1h-1zM284 447h1v1h-1zM726 447h1v1h-1zM285 448h1v1h-1zM613 448h2v1h-2zM727 448h1v1h-1zM612 449h1v1h-1zM728 449h1v1h-1zM245 450h1v1h-1zM245 451h1v1h-1zM608 451h1v1h-1zM244 452h1v1h-1zM289 452h1v1h-1zM607 452h1v1h-1zM290 453h1v1h-1zM606 453h1v1h-1zM731 453h1v1h-1zM291 454h1v1h-1zM732 454h1v1h-1zM535 455h2v1h-2zM540 455h1v1h-1zM733 455h1v1h-1zM222 456h1v1h-1zM226 456h3v1h-3zM240 456h1v1h-1zM534 456h1v1h-1zM541 456h2v1h-2zM602 456h1v1h-1zM220 457h2v1h-2zM232 457h2v1h-2zM238 457h2v1h-2zM415 457h3v1h-3zM421 457h1v1h-1zM600 457h2v1h-2zM234 458h1v1h-1zM295 458h2v1h-2zM422 458h2v1h-2zM216 459h1v1h-1zM297 459h1v1h-1zM411 459h1v1h-1zM530 459h1v1h-1zM546 459h1v1h-1zM215 460h1v1h-1zM338 460h2v1h-2zM343 460h2v1h-2zM410 460h1v1h-1zM427 460h2v1h-2zM529 460h1v1h-1zM547 460h1v1h-1zM596 460h1v1h-1zM214 461h1v1h-1zM301 461h2v1h-2zM337 461h1v1h-1zM345 461h1v1h-1zM409 461h1v1h-1zM429 461h1v1h-1zM529 461h1v1h-1zM548 461h1v1h-1zM595 461h1v1h-1zM303 462h1v1h-1zM333 462h1v1h-1zM349 462h1v1h-1zM594 462h1v1h-1zM307 463h3v1h-3zM331 463h2v1h-2zM350 463h2v1h-2zM433 463h2v1h-2zM313 464h3v1h-3zM319 464h3v1h-3zM325 464h3v1h-3zM404 464h2v1h-2zM435 464h1v1h-1zM439 464h3v1h-3zM589 464h2v1h-2zM211 465h1v1h-1zM355 465h2v1h-2zM403 465h1v1h-1zM445 465h1v1h-1zM526 465h1v1h-1zM552 465h2v1h-2zM588 465h1v1h-1zM210 466h1v1h-1zM357 466h1v1h-1zM446 466h1v1h-1zM525 466h1v1h-1zM554 466h1v1h-1zM209 467h1v1h-1zM361 467h3v1h-3zM367 467h3v1h-3zM447 467h1v1h-1zM451 467h3v1h-3zM457 467h3v1h-3zM525 467h1v1h-1zM582 467h3v1h-3zM373 468h3v1h-3zM379 468h3v1h-3zM385 468h3v1h-3zM391 468h3v1h-3zM397 468h3v1h-3zM463 468h3v1h-3zM558 468h3v1h-3zM564 469h2v1h-2zM577 469h2v1h-2zM205 470h1v1h-1zM469 470h2v1h-2zM566 470h1v1h-1zM570 470h3v1h-3zM576 470h1v1h-1zM204 471h1v1h-1zM471 471h1v1h-1zM522 471h1v1h-1zM203 472h1v1h-1zM522 472h1v1h-1zM475 473h1v1h-1zM521 473h1v1h-1zM476 474h1v1h-1zM199 475h1v1h-1zM477 475h1v1h-1zM198 476h1v1h-1zM197 477h1v1h-1zM519 477h1v1h-1zM481 478h1v1h-1zM518 478h1v1h-1zM482 479h1v1h-1zM518 479h1v1h-1zM192 480h2v1h-2zM483 480h1v1h-1zM191 481h1v1h-1zM187 483h1v1h-1zM487 483h1v1h-1zM515 483h1v1h-1zM185 484h2v1h-2zM488 484h1v1h-1zM514 484h1v1h-1zM489 485h1v1h-1zM514 485h1v1h-1zM14 486h2v1h-2zM13 487h1v1h-1zM180 487h2v1h-2zM9 488h1v1h-1zM179 488h1v1h-1zM493 488h1v1h-1zM7 489h2v1h-2zM19 489h1v1h-1zM494 489h1v1h-1zM512 489h1v1h-1zM20 490h1v1h-1zM175 490h1v1h-1zM495 490h1v1h-1zM511 490h1v1h-1zM21 491h1v1h-1zM173 491h2v1h-2zM511 491h1v1h-1zM3 492h1v1h-1zM499 492h2v1h-2zM167 493h3v1h-3zM501 493h1v1h-1zM506 493h2v1h-2zM505 494h1v1h-1zM25 495h1v1h-1zM163 495h1v1h-1zM26 496h1v1h-1zM161 496h2v1h-2zM27 497h1v1h-1zM155 497h3v1h-3zM143 498h3v1h-3zM149 498h3v1h-3zM138 499h2v1h-2zM137 500h1v1h-1zM29 501h1v1h-1zM133 501h1v1h-1zM29 502h1v1h-1zM131 502h2v1h-2zM30 503h1v1h-1zM127 505h1v1h-1zM125 506h2v1h-2zM32 507h1v1h-1zM33 508h1v1h-1zM33 509h1v1h-1zM120 509h2v1h-2zM119 510h1v1h-1zM115 512h1v1h-1zM36 513h1v1h-1zM114 513h1v1h-1zM36 514h1v1h-1zM114 514h1v1h-1zM37 515h1v1h-1zM112 518h1v1h-1zM39 519h1v1h-1zM111 519h1v1h-1zM39 520h1v1h-1zM110 520h1v1h-1zM40 521h1v1h-1zM107 524h1v1h-1zM42 525h1v1h-1zM106 525h1v1h-1zM42 526h1v1h-1zM105 526h1v1h-1zM43 527h1v1h-1zM102 530h1v1h-1zM44 531h1v1h-1zM102 531h1v1h-1zM45 532h1v1h-1zM101 532h1v1h-1zM45 533h1v1h-1zM98 536h1v1h-1zM46 537h1v1h-1zM97 537h1v1h-1zM47 538h1v1h-1zM97 538h1v1h-1zM47 539h1v1h-1zM93 542h1v1h-1zM49 543h1v1h-1zM93 543h1v1h-1zM49 544h1v1h-1zM92 544h1v1h-1zM50 545h1v1h-1zM89 548h1v1h-1zM52 549h1v1h-1zM89 549h1v1h-1zM53 550h1v1h-1zM88 550h1v1h-1zM53 551h1v1h-1zM86 554h1v1h-1zM56 555h1v1h-1zM85 555h1v1h-1zM56 556h1v1h-1zM85 556h1v1h-1zM57 557h1v1h-1zM82 560h1v1h-1zM59 561h1v1h-1zM81 561h1v1h-1zM60 562h1v1h-1zM80 562h1v1h-1zM60 563h1v1h-1zM76 566h1v1h-1zM62 567h1v1h-1zM75 567h1v1h-1zM63 568h2v1h-2zM74 568h1v1h-1zM68 570h3v1h-3z" fill="#FF0000"/>
<rect x="2.5" y="2.5" width="758" height="386" fill="none" stroke="#000"/>
<rect x="2.5" y="390.5" width="758" height="192" fill="none" stroke="#000"/>
<rect x="0" y="389" width="800" height="1" fill="#FFFAFA"/>
<rect x="761" y="36" width="2" height="1" fill="#000"/>
<rect x="761" y="78" width="2" height="1" fill="#000"/>
<rect x="761" y="121" width="2" height="1" fill="#000"/>
<rect x="761" y="164" width="2" height="1" fill="#000"/>
<rect x="761" y="206" width="2" height="1" fill="#000"/>
<rect x="761" y="249" width="2" height="1" fill="#000"/>
<rect x="761" y="292" width="2" height="1" fill="#000"/>
<rect x="761" y="335" width="2" height="1" fill="#000"/>
<rect x="761" y="377" width="2" height="1" fill="#000"/>
<rect x="761" y="392" width="1" height="1" fill="#000"/>
<rect x="761" y="467" width="1" height="1" fill="#000"/>
<rect x="761" y="581" width="1" height="1" fill="#000"/>
<rect x="3" y="583" width="1" height="3" fill="#000"/>
<rect x="67" y="583" width="1" height="3" fill="#000"/>
<rect x="131" y="583" width="1" height="3" fill="#000"/>
<rect x="195" y="583" width="1" height="3" fill="#000"/>
<rect x="259" y="583" width="1" height="3" fill="#000"/>
<rect x="323" y="583" width="1" height="3" fill="#000"/>
<rect x="387" y="583" width="1" height="3" fill="#000"/>
<rect x="451" y="583" width="1" height="3" fill="#000"/>
<rect x="515" y="583" width="1" height="3" fill="#000"/>
<rect x="579" y="583" width="1" height="3" fill="#000"/>
<rect x="643" y="583" width="1" height="3" fill="#000"/>
<rect x="707" y="583" width="1" height="3" fill="#000"/>
<rect x="762" y="33" width="36" height="11" fill="#FF0000"/>
<rect x="762" y="220" width="36" height="11" fill="#FF0000"/>
<rect x="762" y="360" width="36" height="11" fill="#FF0000"/>
<rect x="762" y="128" width="36" height="11" fill="#000"/>
<rect x="6" y="9" width="7" height="1" fill="#000"/>
<rect x="7" y="10" width="5" height="1" fill="#000"/>
<rect x="8" y="11" width="3" height="1" fill="#000"/>
<rect x="9" y="12" width="1" height="1" fill="#000"/>
</svg>
<div class="t" style="left:19.0px;top:5px;color:#000;letter-spacing:0.056px">GBPUSD,H1</div>
<div class="t" style="left:78.3px;top:5px;color:#000;letter-spacing:0.244px">1.6799</div>
<div class="t" style="left:108.7px;top:5px;color:#000;letter-spacing:0.067px">1.6801</div>
<div class="t" style="left:140.0px;top:5px;color:#000;letter-spacing:0.244px">1.6799</div>
<div class="t" style="left:171.0px;top:5px;color:#000;letter-spacing:0.244px">1.6799</div>
<div class="t" style="left:6.9px;top:394px;color:#000;letter-spacing:0.384px">MACD(5,34,5)</div>
<div class="t" style="left:72.2px;top:394px;color:#000;letter-spacing:-0.093px">0.00047</div>
<div class="t" style="left:107.6px;top:394px;color:#000;letter-spacing:-0.130px">0.00054</div>
<div class="t" style="left:6.8px;top:569px;color:#000;letter-spacing:0.161px">MetaTrader,</div>
<div class="t" style="left:61.1px;top:569px;font-size:11px;transform:none">©</div>
<div class="t" style="left:72.5px;top:569px;color:#000;letter-spacing:-0.062px">2001-2014,</div>
<div class="t" style="left:120.2px;top:569px;color:#000;letter-spacing:0.340px">MetaQuotes</div>
<div class="t" style="left:175.6px;top:569px;color:#000;letter-spacing:0.302px">Software</div>
<div class="t" style="left:216.2px;top:569px;color:#000;letter-spacing:0.208px">Corp.</div>
<div class="t" style="left:765.7px;top:72px;color:#000;letter-spacing:0.244px">1.6825</div>
<div class="t" style="left:765.7px;top:115px;color:#000;letter-spacing:0.244px">1.6805</div>
<div class="t" style="left:765.7px;top:158px;color:#000;letter-spacing:0.244px">1.6785</div>
<div class="t" style="left:765.7px;top:200px;color:#000;letter-spacing:0.244px">1.6765</div>
<div class="t" style="left:765.7px;top:243px;color:#000;letter-spacing:0.244px">1.6745</div>
<div class="t" style="left:765.7px;top:286px;color:#000;letter-spacing:0.244px">1.6725</div>
<div class="t" style="left:765.7px;top:329px;color:#000;letter-spacing:0.244px">1.6705</div>
<div class="t" style="left:765.7px;top:371px;color:#000;letter-spacing:0.244px">1.6685</div>
<div class="t" style="left:765.7px;top:33px;color:#fff;letter-spacing:0.244px">1.6843</div>
<div class="t" style="left:765.7px;top:220px;color:#fff;letter-spacing:0.244px">1.6756</div>
<div class="t" style="left:765.7px;top:360px;color:#fff;letter-spacing:0.244px">1.6690</div>
<div class="t" style="left:765.7px;top:128px;color:#fff;letter-spacing:0.244px">1.6799</div>
<div class="t" style="left:764.0px;top:392px;color:#000;letter-spacing:-0.074px">0.00454</div>
<div class="t" style="left:764.0px;top:461px;color:#000;letter-spacing:0.370px">0.00</div>
<div class="t" style="left:764.0px;top:570px;color:#000;letter-spacing:0.238px">-0.00694</div>
<div class="t" style="left:2.6px;top:586px;color:#000;letter-spacing:0.222px">28 May 2014</div>
<div class="t" style="left:66.6px;top:586px;color:#000;letter-spacing:0.273px">28 May 20:00</div>
<div class="t" style="left:130.6px;top:586px;color:#000;letter-spacing:0.273px">29 May 12:00</div>
<div class="t" style="left:194.6px;top:586px;color:#000;letter-spacing:0.273px">30 May 04:00</div>
<div class="t" style="left:258.6px;top:586px;color:#000;letter-spacing:0.273px">30 May 20:00</div>
<div class="t" style="left:322.6px;top:586px;color:#000;letter-spacing:0.033px">2 Jun 13:00</div>
<div class="t" style="left:386.6px;top:586px;color:#000;letter-spacing:0.033px">3 Jun 05:00</div>
<div class="t" style="left:450.6px;top:586px;color:#000;letter-spacing:0.033px">3 Jun 21:00</div>
<div class="t" style="left:514.6px;top:586px;color:#000;letter-spacing:0.033px">4 Jun 13:00</div>
<div class="t" style="left:578.6px;top:586px;color:#000;letter-spacing:0.033px">5 Jun 05:00</div>
<div class="t" style="left:642.6px;top:586px;color:#000;letter-spacing:0.033px">5 Jun 21:00</div>
<div class="t" style="left:706.6px;top:586px;color:#000;letter-spacing:0.033px">6 Jun 13:00</div>
</body></html>
